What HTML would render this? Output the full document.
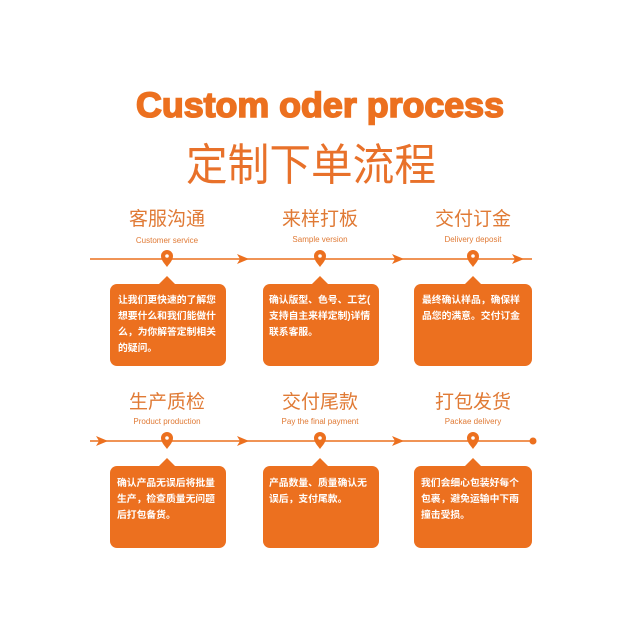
<!DOCTYPE html>
<html><head><meta charset="utf-8"><style>
html,body{margin:0;padding:0;background:#fff;width:640px;height:640px;overflow:hidden}
svg{display:block}
.h{font-family:"Liberation Sans","Noto Sans CJK SC",sans-serif;fill:#e07a35;font-size:19px;text-anchor:middle}
.s{font-family:"Liberation Sans",sans-serif;fill:#e07a35;font-size:8px;text-anchor:middle}
.b{font-family:"Liberation Sans","Noto Sans CJK SC",sans-serif;fill:#fff;font-size:9.8px;font-weight:bold}
</style></head><body>
<svg width="640" height="640" viewBox="0 0 640 640">
<defs>
<g id="pin"><path d="M0 9 C-3 5 -6 2 -6 -2 A6 6 0 1 1 6 -2 C6 2 3 5 0 9Z" fill="#ec701f"/><circle cx="0" cy="-2" r="1.8" fill="#fff"/></g>
<path id="arr" d="M-8 -5 L4 0 L-8 5 L-5 0Z" fill="#ec701f"/>
</defs>
<text x="320" y="117" font-family="Liberation Sans,sans-serif" font-weight="bold" font-size="35" fill="#ec701f" stroke="#ec701f" stroke-width="1.6" text-anchor="middle" textLength="368" lengthAdjust="spacingAndGlyphs">Custom oder process</text>
<text x="311" y="180" font-family="Liberation Sans,Noto Sans CJK SC,sans-serif" font-size="44" fill="#e8712a" text-anchor="middle" textLength="250" lengthAdjust="spacingAndGlyphs">定制下单流程</text>

<!-- row1 -->
<line x1="90" y1="259" x2="532" y2="259" stroke="#ec701f" stroke-width="1.5"/>
<use href="#arr" x="245" y="259"/><use href="#arr" x="400" y="259"/><use href="#arr" x="520" y="259"/>
<use href="#pin" x="167" y="258"/><use href="#pin" x="320" y="258"/><use href="#pin" x="473" y="258"/>
<text class="h" x="167" y="225">客服沟通</text><text class="s" x="167" y="243">Customer service</text>
<text class="h" x="320" y="225">来样打板</text><text class="s" x="320" y="242">Sample version</text>
<text class="h" x="473" y="225">交付订金</text><text class="s" x="473" y="242">Delivery deposit</text>

<g fill="#ec701f">
<rect x="110" y="284" width="116" height="82" rx="7"/><path d="M158 285 L167 276 L176 285Z"/>
<rect x="263" y="284" width="116" height="82" rx="7"/><path d="M311 285 L320 276 L329 285Z"/>
<rect x="414" y="284" width="118" height="82" rx="7"/><path d="M464 285 L473 276 L482 285Z"/>
</g>
<text class="b" x="118" y="303">让我们更快速的了解您</text>
<text class="b" x="118" y="319">想要什么和我们能做什</text>
<text class="b" x="118" y="335">么，为你解答定制相关</text>
<text class="b" x="118" y="351">的疑问。</text>
<text class="b" x="269" y="303">确认版型、色号、工艺(</text>
<text class="b" x="269" y="319">支持自主来样定制)详情</text>
<text class="b" x="269" y="335">联系客服。</text>
<text class="b" x="422" y="303">最终确认样品，确保样</text>
<text class="b" x="422" y="319">品您的满意。交付订金</text>

<!-- row2 -->
<line x1="90" y1="441" x2="534" y2="441" stroke="#ec701f" stroke-width="1.5"/>
<use href="#arr" x="104" y="441"/><use href="#arr" x="245" y="441"/><use href="#arr" x="400" y="441"/>
<circle cx="533" cy="441" r="3.5" fill="#ec701f"/>
<use href="#pin" x="167" y="440"/><use href="#pin" x="320" y="440"/><use href="#pin" x="473" y="440"/>
<text class="h" x="167" y="408">生产质检</text><text class="s" x="167" y="424">Product production</text>
<text class="h" x="320" y="408">交付尾款</text><text class="s" x="320" y="424">Pay the final payment</text>
<text class="h" x="473" y="408">打包发货</text><text class="s" x="473" y="424">Packae delivery</text>

<g fill="#ec701f">
<rect x="110" y="466" width="116" height="82" rx="7"/><path d="M158 467 L167 458 L176 467Z"/>
<rect x="263" y="466" width="116" height="82" rx="7"/><path d="M311 467 L320 458 L329 467Z"/>
<rect x="414" y="466" width="118" height="82" rx="7"/><path d="M464 467 L473 458 L482 467Z"/>
</g>
<text class="b" x="117" y="486">确认产品无误后将批量</text>
<text class="b" x="117" y="502">生产，检查质量无问题</text>
<text class="b" x="117" y="518">后打包备货。</text>
<text class="b" x="269" y="486">产品数量、质量确认无</text>
<text class="b" x="269" y="502">误后，支付尾款。</text>
<text class="b" x="421" y="486">我们会细心包装好每个</text>
<text class="b" x="421" y="502">包裹，避免运输中下雨</text>
<text class="b" x="421" y="518">撞击受损。</text>
</svg>
</body></html>
